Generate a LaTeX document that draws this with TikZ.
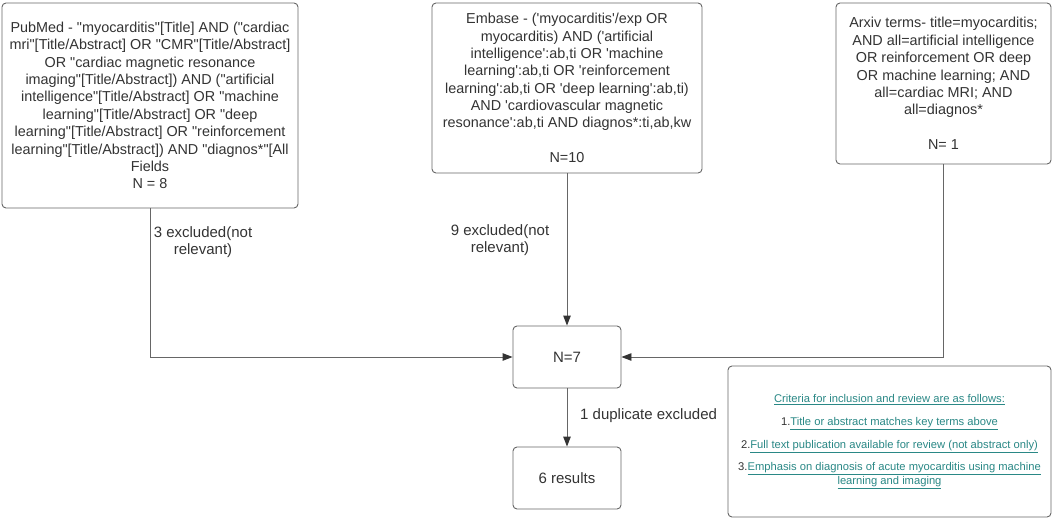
\documentclass[tikz,border=0pt]{standalone}
\usepackage{fontspec}
\setmainfont{Liberation Sans}
\newfontfamily\arial{Liberation Sans}
\usetikzlibrary{arrows.meta}
\definecolor{txt}{HTML}{333333}
\definecolor{ln}{HTML}{666666}
\definecolor{lnk}{HTML}{2A8886}
\tikzset{
  box/.style={draw=ln, line width=0.9pt, rounded corners=4pt, fill=white, inner sep=0pt, text=txt},
  conn/.style={draw=ln, line width=0.9pt, -{Triangle[length=10pt,width=7.5pt,color=txt]}},
  lbl/.style={text=txt, align=center, font=\arial\fontsize{15}{17}\selectfont},
  main/.style={font=\arial\fontsize{14.4}{17.35}\selectfont, align=center},
  big/.style={font=\arial\fontsize{15}{17.4}\selectfont, align=center}
}
\begin{document}
\begin{tikzpicture}[x=1pt,y=-1pt]
\useasboundingbox (0,0) rectangle (1055,522);
% boxes
\node[box, main, minimum width=296pt, minimum height=205pt] (pub) at (150,105.5)
 {PubMed - "myocarditis"[Title] AND ("cardiac\\mri"[Title/Abstract] OR "CMR"[Title/Abstract]\\OR "cardiac magnetic resonance\\imaging"[Title/Abstract]) AND ("artificial\\intelligence"[Title/Abstract] OR "machine\\learning"[Title/Abstract] OR "deep\\learning"[Title/Abstract] OR "reinforcement\\learning"[Title/Abstract]) AND "diagnos*"[All\\Fields\\N = 8};
\node[box, main, minimum width=270pt, minimum height=170pt] (emb) at (567,88)
 {Embase - ('myocarditis'/exp OR\\myocarditis) AND ('artificial\\intelligence':ab,ti OR 'machine\\learning':ab,ti OR 'reinforcement\\learning':ab,ti OR 'deep learning':ab,ti)\\AND 'cardiovascular magnetic\\resonance':ab,ti AND diagnos*:ti,ab,kw\\[17.35pt]N=10};
\node[box, main, minimum width=215pt, minimum height=161pt] (arx) at (943.5,83.5)
 {Arxiv terms- title=myocarditis;\\AND all=artificial intelligence\\OR reinforcement OR deep\\OR machine learning; AND\\all=cardiac MRI; AND\\all=diagnos*\\[17.35pt]N= 1};
\node[box, big, minimum width=108pt, minimum height=62pt] (n7) at (567,357) {N=7};
\node[box, big, minimum width=108pt, minimum height=62pt] (res) at (567,478) {6 results};
\node[box, minimum width=323pt, minimum height=151pt, font=\arial\fontsize{11.2}{22.7}\selectfont, align=center, text=lnk] (crit) at (889.5,441.5)
 {\underline{Criteria for inclusion and review are as follows:}\\
 \textcolor{txt}{1.}\underline{Title or abstract matches key terms above}\\
 \textcolor{txt}{2.}\underline{Full text publication available for review (not abstract only)}\\
 \textcolor{txt}{3.}\underline{Emphasis on diagnosis of acute myocarditis using machine}\\[-9.4pt]
 \underline{learning and imaging}};
% connectors
\coordinate (pubturn) at (pub.south |- n7.west);
\coordinate (arxturn) at (arx.south |- n7.east);
\draw[conn] (pub.south) -- (pubturn) -- (n7.west);
\draw[conn] (emb.south) -- (n7.north);
\draw[conn] (arx.south) -- (arxturn) -- (n7.east);
\draw[conn] (n7.south) -- (res.north);
% labels
\node[lbl] (l1) at (203,242) {3 excluded(not\\relevant)};
\node[lbl] (l2) at (500,240) {9 excluded(not\\relevant)};
\node[lbl, anchor=west, inner sep=0pt] (l3) at (580,416) {1 duplicate excluded};
\end{tikzpicture}
\end{document}
